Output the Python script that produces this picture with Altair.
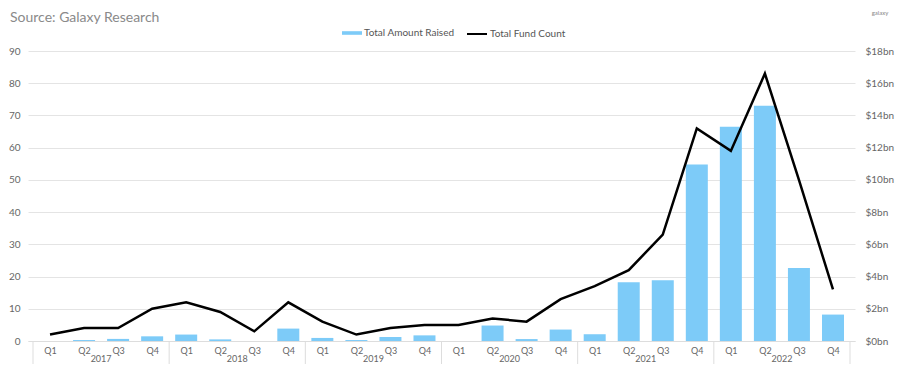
import altair as alt
import pandas as pd

# ---- data ----
years = ["2017"] * 4 + ["2018"] * 4 + ["2019"] * 4 + ["2020"] * 4 + ["2021"] * 4 + ["2022"] * 4
quarters = ["Q1", "Q2", "Q3", "Q4"] * 6
fund_count = [2, 4, 4, 10, 12, 9, 3, 12, 6, 2, 4, 5, 5, 7, 6, 13, 17, 22, 33, 66, 59, 83, 50, 16]
amount_bn = [0, 0.06, 0.13, 0.29, 0.4, 0.1, 0, 0.77, 0.19, 0.06, 0.25, 0.35,
             0, 0.96, 0.12, 0.71, 0.42, 3.64, 3.77, 10.95, 13.3, 14.6, 4.53, 1.64]
count_ticks = [0, 10, 20, 30, 40, 50, 60, 70, 80, 90]
amount_ticks = [0, 2, 4, 6, 8, 10, 12, 14, 16, 18]
title_text = "Source: Galaxy Research"
logo_text = "galaxy"

FONT = "Lato"
GRAY = "#666666"
BLUE = "#7DCBF8"

n = len(quarters)
df = pd.DataFrame({
    "idx": list(range(n)),
    "quarter": quarters,
    "year": years,
    "count": fund_count,
    "amount": amount_bn,
    "s_amount": ["Total Amount Raised"] * n,
    "s_count": ["Total Fund Count"] * n,
})

year_df = df.groupby("year", as_index=False).agg(center=("idx", "mean"), first=("idx", "min"))
bounds = [f - 0.5 for f in year_df["first"].tolist()] + [n - 0.5]
sep_df = pd.DataFrame({"b": bounds})

xscale = alt.Scale(domain=[-0.5, n - 0.5], nice=False, zero=False)
label_expr = "[" + ",".join("'" + q + "'" for q in quarters) + "][datum.value]"
x_axis = alt.Axis(values=list(range(n)), labelExpr=label_expr, grid=False, ticks=False,
                  domain=True, domainColor="#dddddd", labelPadding=5, title=None,
                  labelOverlap=False, labelFlush=False, labelFontSize=9, labelBound=False)

H = 290

bars = alt.Chart(df).mark_bar(size=22).encode(
    x=alt.X("idx:Q", scale=xscale, axis=x_axis),
    y=alt.Y("amount:Q", scale=alt.Scale(domain=[0, 18], nice=False),
            axis=alt.Axis(orient="right", values=amount_ticks, labelExpr="'$' + datum.value + 'bn'",
                          grid=False, ticks=False, domain=False, labelPadding=10, title=None)),
    fill=alt.Fill("s_amount:N", scale=alt.Scale(domain=["Total Amount Raised"], range=[BLUE]),
                  legend=alt.Legend(orient="none", legendX=314, legendY=-28, title=None,
                                    symbolType="M-1,-0.18L1,-0.18L1,0.18L-1,0.18Z",
                                    symbolSize=400, symbolStrokeWidth=0, labelOffset=2)),
)

line = alt.Chart(df).mark_line(strokeWidth=2.5).encode(
    x=alt.X("idx:Q", scale=xscale, axis=x_axis),
    y=alt.Y("count:Q", scale=alt.Scale(domain=[0, 90], nice=False),
            axis=alt.Axis(orient="left", values=count_ticks, grid=True, gridColor="#e4e4e4",
                          ticks=False, domain=False, labelPadding=8, title=None)),
    stroke=alt.Stroke("s_count:N", scale=alt.Scale(domain=["Total Fund Count"], range=["#000000"]),
                      legend=alt.Legend(orient="none", legendX=438, legendY=-28, title=None,
                                        symbolType="stroke", symbolSize=400, symbolStrokeWidth=2,
                                        labelOffset=2)),
)

seps = alt.Chart(sep_df).mark_rule(color="#dddddd", strokeWidth=1).encode(
    x=alt.X("b:Q", scale=xscale, axis=x_axis),
    y=alt.value(H),
    y2=alt.value(H + 24),
)

year_text = alt.Chart(year_df).mark_text(font=FONT, fontSize=9, color=GRAY, baseline="alphabetic").encode(
    x=alt.X("center:Q", scale=xscale, axis=x_axis),
    y=alt.value(H + 21),
    text="year:N",
)

title = alt.Chart(pd.DataFrame({"t": [title_text]})).mark_text(
    font=FONT, fontSize=14, color="#8a8a8a", align="left", baseline="alphabetic"
).encode(x=alt.value(-18), y=alt.value(-29), text="t:N")

logo = alt.Chart(pd.DataFrame({"t": [logo_text]})).mark_text(
    font=FONT, fontSize=6, color="#888888"
).encode(x=alt.value(852), y=alt.value(-38), text="t:N")

chart = alt.layer(bars, line, seps, year_text, title, logo).resolve_scale(
    y="independent", fill="independent", stroke="independent"
).properties(
    width=827,
    height=H,
    autosize=alt.AutoSizeParams(type="none"),
    padding={"left": 20, "top": 43, "right": 44, "bottom": 23},
).configure_view(stroke=None).configure_axis(
    labelFont=FONT, labelColor=GRAY, labelFontSize=10
).configure_legend(
    labelFont=FONT, labelFontSize=10, labelColor="#555555", padding=0
)

chart.save("out.html", embed_options={"renderer": "svg", "actions": False})
